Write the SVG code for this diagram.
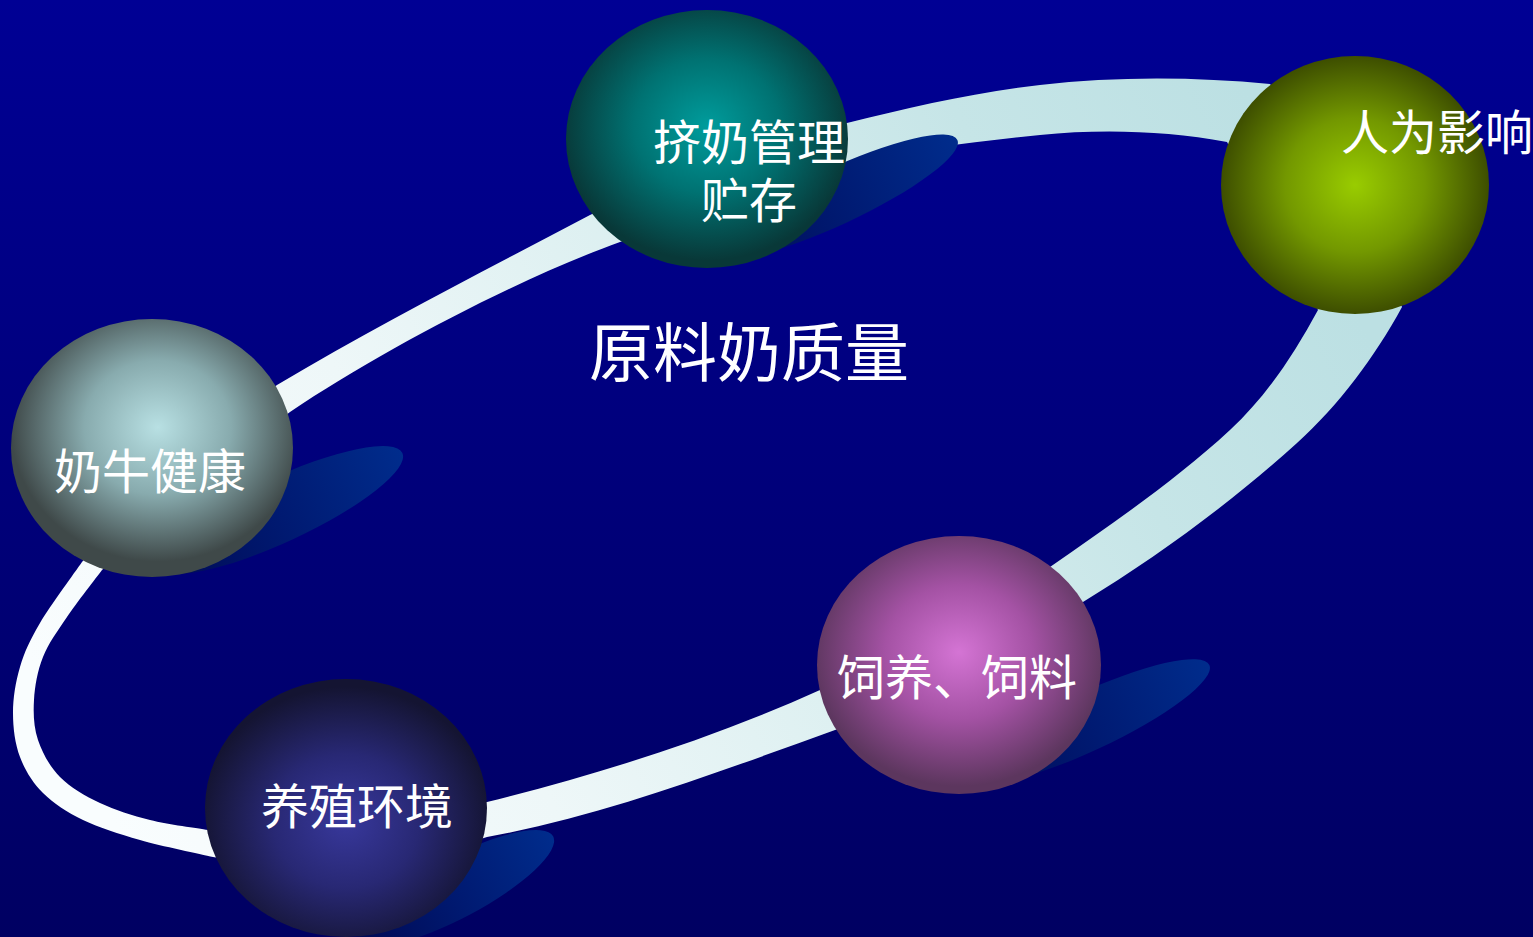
<svg xmlns="http://www.w3.org/2000/svg" width="1533" height="937" viewBox="0 0 1533 937">
<defs>
<linearGradient id="bg" x1="0" y1="0" x2="0" y2="1"><stop offset="0" stop-color="#000094"/><stop offset="1" stop-color="#000062"/></linearGradient>
<linearGradient id="bandG" gradientUnits="userSpaceOnUse" x1="100" y1="800" x2="1300" y2="200"><stop offset="0" stop-color="#f9fdfe"/><stop offset="0.3" stop-color="#eef7f8"/><stop offset="0.55" stop-color="#dbeff0"/><stop offset="0.8" stop-color="#c6e5e7"/><stop offset="1" stop-color="#bce0e3"/></linearGradient>
<linearGradient id="shadowG" x1="0" y1="0" x2="1" y2="0"><stop offset="0" stop-color="#000a55"/><stop offset="0.5" stop-color="#001a72"/><stop offset="1" stop-color="#002c8c"/></linearGradient>
<radialGradient id="gTeal" cx="0.5" cy="0.45" r="0.52"><stop offset="0" stop-color="#009c9c"/><stop offset="0.5" stop-color="#007272"/><stop offset="1" stop-color="#083838"/></radialGradient>
<radialGradient id="gGreen" cx="0.5" cy="0.5" r="0.52"><stop offset="0" stop-color="#99cc00"/><stop offset="0.5" stop-color="#739800"/><stop offset="1" stop-color="#394800"/></radialGradient>
<radialGradient id="gGray" cx="0.52" cy="0.42" r="0.52"><stop offset="0" stop-color="#b8e0e3"/><stop offset="0.5" stop-color="#88abae"/><stop offset="1" stop-color="#3f4949"/></radialGradient>
<radialGradient id="gNavy" cx="0.5" cy="0.55" r="0.52"><stop offset="0" stop-color="#38389c"/><stop offset="0.5" stop-color="#282874"/><stop offset="1" stop-color="#141432"/></radialGradient>
<radialGradient id="gPink" cx="0.5" cy="0.45" r="0.52"><stop offset="0" stop-color="#d474d4"/><stop offset="0.5" stop-color="#a452a4"/><stop offset="1" stop-color="#5c365e"/></radialGradient>
</defs>
<style>
.lbl{font-family:'Liberation Serif','Noto Sans CJK SC',serif;fill:#ffffff;font-size:48px;text-anchor:middle}
.title{font-family:'Liberation Serif','Noto Sans CJK SC',serif;fill:#ffffff;font-size:64px;text-anchor:middle}
.shadow{fill:url(#shadowG)}
</style>
<rect x="0" y="0" width="1533" height="937" fill="url(#bg)"/>

<g id="connectors">
<path fill="url(#bandG)" fill-rule="evenodd" d="
M 277 385 C 381 323 486 270 590 215
L 707 160 L 847 123
C 911 107.2 974.5 92.5 1040 85
C 1116 76.3 1194 76.8 1270 84
L 1350 170 L 1402 307
C 1374.6 357.2 1339.2 404.8 1297 443
C 1231.1 502.6 1158.7 555.7 1083 602
L 960 690 L 835 730
C 721 771 606 815 487 837
L 350 880 L 213 857
C 200.8 854.2 161.7 846.2 140 840
C 118.3 833.8 99.2 827.8 83 820
C 66.8 812.2 53.5 803.5 43 793
C 32.5 782.5 25 770.3 20 757
C 15 743.7 13 728 13 713
C 13 698 15.5 682 20 667
C 24.5 652 29.7 640.5 40 623
C 50.3 605.5 75 572.2 82 562
L 160 470 Z
M 290 412 C 382 350 520 278 620 242
L 740 200 L 847 163
C 910.7 150 975.3 141.3 1040 135
C 1101.7 129 1166.2 130.8 1227 142
L 1270 220 L 1318 310
C 1294 354 1266.8 396.1 1230 430
C 1174.9 480.9 1111.5 524.2 1050 567
L 940 640 L 820 690
C 713.5 738 600.5 774 487 802
L 350 800 L 208 830
C 198.3 828.3 168 824.5 150 820
C 132 815.5 115 810.2 100 803
C 85 795.8 70.3 787.5 60 777
C 49.7 766.5 42.3 752.8 38 740
C 33.7 727.2 33.2 713.8 34 700
C 34.8 686.2 37.5 670.8 43 657
C 48.5 643.2 57.2 631.5 67 617
C 76.8 602.5 96.2 577.8 102 570
L 200 480 Z"/>
</g>

<g id="shadows">
<ellipse class="shadow" cx="280" cy="510" rx="135" ry="32" transform="rotate(-25 280 510)"/>
<ellipse class="shadow" cx="835" cy="197" rx="135" ry="28" transform="rotate(-25 835 197)"/>
<ellipse class="shadow" cx="1087" cy="722" rx="135" ry="29" transform="rotate(-25 1087 722)"/>
<ellipse class="shadow" cx="456" cy="888" rx="110" ry="30" transform="rotate(-28 456 888)"/>
</g>

<g id="node-milking">
<ellipse cx="707" cy="139" rx="141" ry="129" fill="url(#gTeal)"/>
<text class="lbl" x="749" y="160">挤奶管理</text>
<text class="lbl" x="749" y="218">贮存</text>
</g>

<g id="node-human">
<ellipse cx="1355" cy="185" rx="134" ry="129" fill="url(#gGreen)"/>
<text class="lbl" x="1437" y="150">人为影响</text>
</g>

<g id="node-health">
<ellipse cx="152" cy="448" rx="141" ry="129" fill="url(#gGray)"/>
<text class="lbl" x="150" y="489">奶牛健康</text>
</g>

<g id="node-env">
<ellipse cx="346" cy="808" rx="141" ry="129" fill="url(#gNavy)"/>
<text class="lbl" x="357" y="824">养殖环境</text>
</g>

<g id="node-feed">
<ellipse cx="959" cy="665" rx="142" ry="129" fill="url(#gPink)"/>
<text class="lbl" x="957" y="695">饲养、饲料</text>
</g>

<g id="title">
<text class="title" x="749" y="376">原料奶质量</text>
</g>
</svg>
